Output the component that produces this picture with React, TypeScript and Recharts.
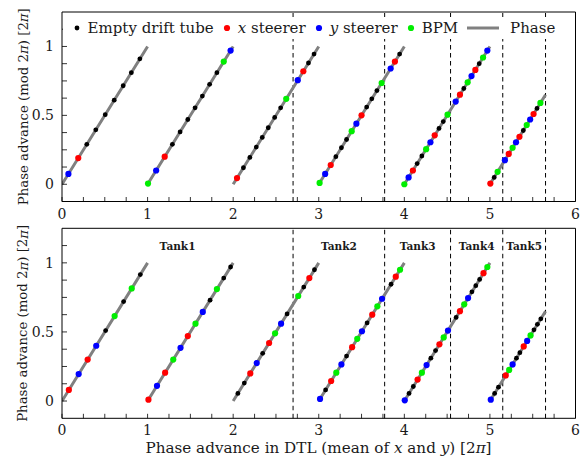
import { ComposedChart, Legend, Line, ReferenceLine, Scatter, XAxis, YAxis } from 'recharts'

const SERIF = '"DejaVu Serif", "Liberation Serif", serif'
const INK = '#1a1a1a'

// axis ticks (units of 2π)
const xTicks = [0, 0.25, 0.5, 0.75, 1, 1.25, 1.5, 1.75, 2, 2.25, 2.5, 2.75, 3, 3.25, 3.5, 3.75, 4, 4.25, 4.5, 4.75, 5, 5.25, 5.5, 5.75, 6]
const xLabelTicks = [0, 1, 2, 3, 4, 5, 6]
const yTicks = [0, 0.125, 0.25, 0.375, 0.5, 0.625, 0.75, 0.875, 1, 1.125]
const yLabelTicks = [0, 0.5, 1]

// tank boundaries and names
const tankEdges = [0, 2.70, 3.77, 4.54, 5.15, 5.65]
const tankNames = ['Tank1', 'Tank2', 'Tank3', 'Tank4', 'Tank5']

// phase line pieces (wrap every 2π)
const phaseStarts = [0, 1, 2, 3, 4, 5]
const phaseEnds = [1, 2, 3, 4, 5, 5.65]

// top panel: cumulative phase advance of each element
const topDrift = [0.29, 0.395, 0.505, 0.61, 0.715, 0.81, 0.91, 1.29, 1.38, 1.47, 1.555, 1.64, 1.725, 1.81,
  2.12, 2.195, 2.27, 2.34, 2.41, 2.485, 2.555, 2.88, 2.945, 3.20, 3.265, 3.325, 3.56, 3.62, 3.68, 3.945,
  4.15, 4.205, 4.405, 4.455, 4.695, 4.875, 5.05, 5.39, 5.55]
const topXSteer = [0.19, 1.20, 2.045, 2.82, 3.14, 3.50, 3.89, 4.10, 4.355, 4.65, 4.83, 5.005, 5.22, 5.345, 5.51]
const topYSteer = [0.075, 1.10, 1.97, 2.755, 3.075, 3.44, 3.84, 4.05, 4.305, 4.60, 4.785, 4.97, 5.175, 5.305, 5.47]
const topBpm = [1.005, 1.89, 2.62, 3.01, 3.385, 3.735, 4.0, 4.255, 4.505, 4.74, 4.92, 5.09, 5.265, 5.43, 5.59]

// bottom panel
const botDrift = [0.51, 0.72, 0.915, 1.73, 1.89, 1.97, 2.055, 2.13, 2.345, 2.63, 2.825, 2.95, 3.08, 3.325, 3.565, 3.845,
  4.055, 4.105, 4.31, 4.365, 4.605, 4.79, 4.835, 4.88, 5.055, 5.10, 5.31, 5.35, 5.515, 5.555, 5.595]
const botXSteer = [0.08, 0.30, 1.01, 1.205, 1.47, 2.20, 2.42, 2.89, 3.145, 3.39, 3.625, 3.90, 4.155, 4.41, 4.65, 4.925, 5.185, 5.395]
const botYSteer = [0.195, 0.40, 1.11, 1.385, 1.645, 2.275, 2.56, 3.015, 3.265, 3.505, 3.74, 4.005, 4.26, 4.51, 4.745, 5.01, 5.265, 5.435]
const botBpm = [0.615, 0.815, 1.30, 1.56, 1.81, 2.49, 2.76, 3.205, 3.45, 3.685, 3.95, 4.205, 4.46, 4.70, 4.97, 5.225, 5.475]

const COLORS = { drift: '#000000', x: '#ff0000', y: '#0000ff', bpm: '#00ee00', phase: '#808080' }
const TANK_LABEL_Y = 1.125

const wrap = (xs: number[]) => xs.map((x) => ({ x, y: x - Math.floor(x + 1e-9) }))
const phaseRows = phaseStarts.flatMap((s, i) => [
  { x: s, y: 0 },
  { x: phaseEnds[i], y: phaseEnds[i] - s },
  { x: phaseEnds[i], y: null },
])
const tankRows = tankNames.map((name, i) => ({ name, x: (tankEdges[i] + tankEdges[i + 1]) / 2, y: TANK_LABEL_Y }))

const dot = (r: number, fill: string) => (p: any) => <circle cx={p.cx} cy={p.cy} r={r} fill={fill} />

const BottomTick = (p: any) => (
  <g>
    <line x1={p.x} x2={p.x} y1={p.y} y2={p.y - 4.5} stroke="#000" strokeWidth={0.8} />
    {xLabelTicks.includes(p.payload.value) && (
      <text x={p.x} y={p.y + 17} textAnchor="middle" fontFamily={SERIF} fontSize={14} fill={INK}>{p.payload.value}</text>
    )}
  </g>
)
const TopTick = (p: any) => <line x1={p.x} x2={p.x} y1={p.y} y2={p.y + 4.5} stroke="#000" strokeWidth={0.8} />
const LeftTick = (p: any) => (
  <g>
    <line x1={p.x} x2={p.x + 5} y1={p.y} y2={p.y} stroke="#000" strokeWidth={0.8} />
    {yLabelTicks.includes(p.payload.value) && (
      <text x={p.x - 8} y={p.y + 5} textAnchor="end" fontFamily={SERIF} fontSize={14} fill={INK}>{p.payload.value}</text>
    )}
  </g>
)
const RightTick = (p: any) => <line x1={p.x} x2={p.x - 5} y1={p.y} y2={p.y} stroke="#000" strokeWidth={0.8} />

function LegendBox() {
  const item = (sym: any, text: any) => (
    <span style={{ display: 'inline-flex', alignItems: 'center', marginRight: 9 }}>
      {sym}
      <span style={{ marginLeft: 7 }}>{text}</span>
    </span>
  )
  const circ = (r: number, c: string) => (
    <svg width={8} height={8}><circle cx={4} cy={4} r={r} fill={c} /></svg>
  )
  return (
    <div style={{ background: '#fff', width: '100%', height: '100%', display: 'flex', alignItems: 'center',
      justifyContent: 'center', fontFamily: SERIF, fontSize: 15, color: INK, whiteSpace: 'nowrap' }}>
      {item(circ(2.4, COLORS.drift), 'Empty drift tube')}
      {item(circ(3.1, COLORS.x), <><i>x</i> steerer</>)}
      {item(circ(3.1, COLORS.y), <><i>y</i> steerer</>)}
      {item(circ(3.1, COLORS.bpm), 'BPM')}
      {item(<svg width={32} height={6}><line x1={0} x2={32} y1={3} y2={3} stroke={COLORS.phase} strokeWidth={3} /></svg>,
        <span style={{ marginLeft: 4 }}>Phase</span>)}
    </div>
  )
}

interface PanelProps {
  drift: number[]; xs: number[]; ys: number[]; bpm: number[]
  height: number; mTop: number; mBottom: number
  legend?: boolean; tanks?: boolean; xTitle?: boolean
}

function Panel({ drift, xs, ys, bpm, height, mTop, mBottom, legend, tanks, xTitle }: PanelProps) {
  // axes are 1px thick, so the plot box is at [62, 575.5] x [mTop, height - mBottom]
  const plotTop = mTop
  const plotBottom = height - mBottom
  const cy = (plotTop + plotBottom) / 2
  return (
    <ComposedChart width={588} height={height}
      margin={{ top: mTop - 1, right: 11.5, bottom: mBottom - 1, left: 61 }}>
      <XAxis dataKey="x" type="number" domain={[0, 6]} ticks={xTicks} interval={0} height={1}
        tickSize={0} tickMargin={0} tickLine={false} tick={BottomTick} axisLine={{ stroke: '#000' }}
        allowDataOverflow />
      <XAxis xAxisId="t" orientation="top" type="number" domain={[0, 6]} ticks={xTicks} interval={0} height={1}
        tickSize={0} tickMargin={0} tickLine={false} tick={TopTick} axisLine={{ stroke: '#000' }} />
      <YAxis dataKey="y" type="number" domain={[-0.125, 1.25]} ticks={yTicks} interval={0} width={1}
        tickSize={0} tickMargin={0} tickLine={false} tick={LeftTick} axisLine={{ stroke: '#000' }}
        allowDataOverflow />
      <YAxis yAxisId="r" orientation="right" type="number" domain={[-0.125, 1.25]} ticks={yTicks} interval={0} width={1}
        tickSize={0} tickMargin={0} tickLine={false} tick={RightTick} axisLine={{ stroke: '#000' }} />
      {tankEdges.slice(1).map((e) => (
        <ReferenceLine key={e} x={e} stroke="#000" strokeWidth={1} strokeDasharray="4.5 3.5" />
      ))}
      <Line data={phaseRows} dataKey="y" type="linear" stroke={COLORS.phase} strokeWidth={3} dot={false}
        connectNulls={false} isAnimationActive={false} />
      <Scatter data={wrap(drift)} shape={dot(2.4, COLORS.drift)} isAnimationActive={false} />
      <Scatter data={wrap(xs)} shape={dot(3.1, COLORS.x)} isAnimationActive={false} />
      <Scatter data={wrap(ys)} shape={dot(3.1, COLORS.y)} isAnimationActive={false} />
      <Scatter data={wrap(bpm)} shape={dot(3.1, COLORS.bpm)} isAnimationActive={false} />
      {tanks && (
        <Scatter data={tankRows} isAnimationActive={false}
          shape={(p: any) => (
            <text x={p.cx} y={p.cy + 4} textAnchor="middle" fontFamily={SERIF} fontWeight="bold" fontSize={10.5} fill={INK}>
              {p.payload?.name ?? p.name}
            </text>
          )} />
      )}
      <text x={23} y={cy} transform={`rotate(-90 23 ${cy})`} textAnchor="middle" dominantBaseline="central"
        fontFamily={SERIF} fontSize={13.3} fill={INK}>
        Phase advance (mod 2<tspan fontStyle="italic">π</tspan>) [2<tspan fontStyle="italic">π</tspan>]
      </text>
      {xTitle && (
        <text x={318.5} y={plotBottom + 35} textAnchor="middle" fontFamily={SERIF} fontSize={15.2} fill={INK}>
          Phase advance in DTL (mean of <tspan fontStyle="italic">x</tspan> and <tspan fontStyle="italic">y</tspan>) [2<tspan fontStyle="italic">π</tspan>]
        </text>
      )}
      {legend && (
        <Legend layout="horizontal" verticalAlign="middle" align="center" content={() => <LegendBox />}
          wrapperStyle={{ top: 17, left: 63, width: 511, height: 22, bottom: 'auto', right: 'auto' }} />
      )}
    </ComposedChart>
  )
}

export default function App() {
  return (
    <div style={{ position: 'absolute', left: 0, top: 0, width: 588, height: 461, background: '#fff' }}>
      <Panel drift={topDrift} xs={topXSteer} ys={topYSteer} bpm={topBpm}
        height={222} mTop={12} mBottom={20.5} legend />
      <Panel drift={botDrift} xs={botXSteer} ys={botYSteer} bpm={botBpm}
        height={239} mTop={6.3} mBottom={42.7} tanks xTitle />
    </div>
  )
}
